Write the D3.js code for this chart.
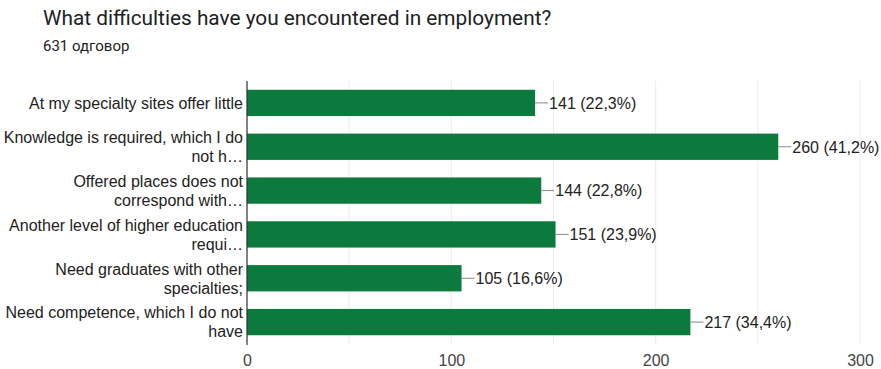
<!DOCTYPE html>
<html>
<head>
<meta charset="utf-8">
<script src="https://cdn.jsdelivr.net/npm/d3@7"></script>
<style>
  html, body { margin: 0; padding: 0; background: #fff; }
  svg { display: block; }
</style>
</head>
<body>
<svg id="chart" width="881" height="369"></svg>
<script>
// Survey answers, one bar per answer option
const categories = [
  ["At my specialty sites offer little"],
  ["Knowledge is required, which I do", "not h…"],
  ["Offered places does not", "correspond with…"],
  ["Another level of higher education", "requi…"],
  ["Need graduates with other", "specialties;"],
  ["Need competence, which I do not", "have"]
];
const counts = [141, 260, 144, 151, 105, 217];
const percents = ["22,3%", "41,2%", "22,8%", "23,9%", "16,6%", "34,4%"];
const tickValues = [0, 100, 200, 300];
const gridValues = [0, 50, 100, 150, 200, 250, 300];

const title = "What difficulties have you encountered in employment?";
const subtitle = "631 одговор";

const svg = d3.select("#chart");
const margin = { top: 81, right: 21, bottom: 25, left: 247 };
const W = 881, H = 369;
const chartFont = "'Liberation Sans', Arial, sans-serif";

svg.append("text")
  .attr("x", 43).attr("y", 25)
  .attr("font-family", "Roboto, 'Noto Sans', sans-serif")
  .attr("font-size", 20.8)
  .attr("fill", "#202124")
  .text(title);

svg.append("text")
  .attr("x", 43).attr("y", 51)
  .attr("font-family", "Roboto, 'Noto Sans', sans-serif")
  .attr("font-size", 15)
  .attr("fill", "#202124")
  .text(subtitle);

const x = d3.scaleLinear().domain([0, 300]).range([margin.left, W - margin.right]);
const y = d3.scaleBand().domain(d3.range(categories.length))
  .range([margin.top, H - margin.bottom])
  .paddingInner(0.4).paddingOuter(0.2);

// light vertical gridlines
svg.append("g").selectAll("line").data(gridValues).join("line")
  .attr("x1", d => x(d)).attr("x2", d => x(d))
  .attr("y1", margin.top).attr("y2", H - margin.bottom)
  .attr("stroke", "#ebebeb").attr("stroke-width", 1);

// bars
svg.append("g").selectAll("rect").data(counts).join("rect")
  .attr("x", x(0))
  .attr("y", (d, i) => y(i))
  .attr("width", d => x(d) - x(0))
  .attr("height", y.bandwidth())
  .attr("fill", "#0b7a3c");

// leader lines and value labels
const lab = svg.append("g");
counts.forEach((d, i) => {
  const cy = y(i) + y.bandwidth() / 2;
  lab.append("line")
    .attr("x1", x(d)).attr("x2", x(d) + 13)
    .attr("y1", cy).attr("y2", cy)
    .attr("stroke", "#888").attr("stroke-width", 1);
  lab.append("text")
    .attr("x", x(d) + 14).attr("y", cy)
    .attr("dy", "0.36em")
    .attr("font-family", chartFont)
    .attr("font-size", 16)
    .attr("fill", "#222")
    .text(`${d} (${percents[i]})`);
});

// category labels (wrapped)
const cat = svg.append("g");
categories.forEach((lines, i) => {
  const cy = y(i) + y.bandwidth() / 2;
  const lh = 19;
  const start = cy - (lines.length - 1) * lh / 2;
  const t = cat.append("text")
    .attr("text-anchor", "end")
    .attr("font-family", chartFont)
    .attr("font-size", 16)
    .attr("fill", "#222");
  lines.forEach((ln, k) => {
    t.append("tspan")
      .attr("x", margin.left - 4)
      .attr("y", start + k * lh)
      .attr("dy", "0.36em")
      .text(ln);
  });
});

// value axis ticks
const xAxis = d3.axisBottom(x).tickValues(tickValues).tickSize(0).tickPadding(11);
const gx = svg.append("g")
  .attr("transform", `translate(0,${H - margin.bottom})`)
  .call(xAxis);
gx.select(".domain").remove();
gx.selectAll("text")
  .attr("font-family", chartFont)
  .attr("font-size", 16)
  .attr("fill", "#444");

// category axis line
svg.append("line")
  .attr("x1", x(0)).attr("x2", x(0))
  .attr("y1", margin.top).attr("y2", H - margin.bottom + 1)
  .attr("stroke", "#333").attr("stroke-width", 1.2);
</script>
</body>
</html>
